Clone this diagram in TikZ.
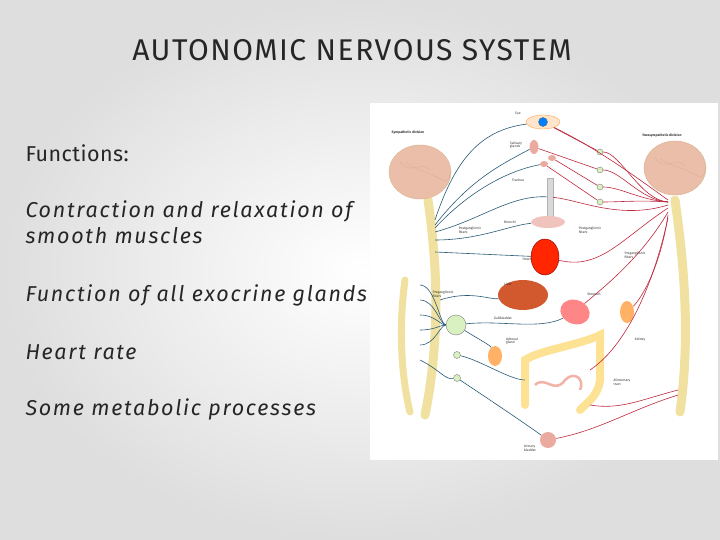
\documentclass[tikz,border=0pt]{standalone}
\usepackage{fontspec}
\setmainfont{Fira Sans}
\newfontfamily\bodyfont[LetterSpace=8]{Fira Sans}
\usetikzlibrary{shapes.geometric}
\definecolor{symp}{RGB}{40,90,120}
\definecolor{para}{RGB}{190,40,60}
\definecolor{cord}{RGB}{240,225,160}
\definecolor{brain}{RGB}{235,190,170}
\definecolor{organ}{RGB}{235,170,160}
\tikzset{
 body/.style={anchor=west,font=\bodyfont\itshape\fontsize{21.5}{26}\selectfont,align=left,text=black!85},
 lab/.style={font=\fontsize{3.4}{3.8}\selectfont,align=left,inner sep=0.5pt,text=black!80},
 sn/.style={symp,line width=0.6pt},
 pn/.style={para,line width=0.6pt},
 gang/.style={circle,draw=black!50,fill=yellow!40!green!25,minimum size=9pt,inner sep=0pt},
}
\begin{document}
\begin{tikzpicture}[x=1pt,y=-1pt]
\shade[inner color=white,outer color=black!13] (0,0) rectangle (720,540);
\useasboundingbox (0,0) rectangle (720,540);
\node[text=black!85] (title) at (352,50) {\fontsize{30}{34}\selectfont\addfontfeature{LetterSpace=5}AUTONOMIC NERVOUS SYSTEM};
\node[body] (t1) at (22,153) {\addfontfeature{LetterSpace=2}\upshape Functions:};
\node[body] (t2) at (22,222) {Contraction and relaxation of\\smooth muscles};
\node[body] (t3) at (22,295) {Function of all exocrine glands};
\node[body] (t4) at (22,352) {Heart rate};
\node[body] (t5) at (22,409) {Some metabolic processes};
% panel
\node[fill=white,minimum width=348pt,minimum height=357pt,inner sep=0pt] (panel) at (544,281.5) {};
% cords
\draw[line width=9pt,cord,line cap=round] (428,200) .. controls (438,270) and (440,340) .. (425,415);
\draw[line width=7pt,cord,line cap=round] (405,280) .. controls (398,330) and (402,380) .. (410,412);
\draw[line width=9pt,cord,line cap=round] (675,200) .. controls (685,270) and (690,340) .. (680,412);
% brains
\node[ellipse,draw=brown!60,fill=brain,minimum width=62pt,minimum height=54pt] (lb) at (420,172) {};
\node[ellipse,draw=brown!60,fill=brain,minimum width=62pt,minimum height=54pt] (rb) at (675,168) {};
\foreach \b in {lb,rb}{\draw[brown!60,thin] (\b.north west) ++(8,10) .. controls +(10,8) and +(-10,-6) .. +(30,14) .. controls +(12,6) .. +(45,8);
\draw[brown!60,thin] (\b.center) ++(-20,-10) .. controls +(10,14) and +(-8,-10) .. +(30,8);}
% organs
\node[ellipse,draw=orange!70,fill=orange!20,minimum width=34pt,minimum height=14pt] (eye) at (543,122) {};
\node[circle,fill=blue!50!cyan,minimum size=9pt,inner sep=0pt,draw=black!60] (iris) at (543,122) {};
\node[ellipse,fill=organ,minimum width=9pt,minimum height=14pt,inner sep=0pt] (sal1) at (534,147) {};
\node[ellipse,fill=organ,minimum width=8pt,minimum height=6pt,inner sep=0pt] (sal2) at (552,158) {};
\node[ellipse,fill=organ,minimum width=8pt,minimum height=6pt,inner sep=0pt] (sal3) at (544,164) {};
\node[rectangle,fill=black!15,draw=black!30,minimum width=6pt,minimum height=38pt,inner sep=0pt] (trach) at (550,197) {};
\node[ellipse,fill=organ!70,minimum width=34pt,minimum height=12pt,inner sep=0pt] (bron) at (548,222) {};
\node[ellipse,fill=red!70!orange,draw=red!50!black,minimum width=28pt,minimum height=36pt,inner sep=0pt] (heart) at (545,257) {};
\node[ellipse,fill=brown!70!red,minimum width=50pt,minimum height=30pt,inner sep=0pt] (liver) at (523,295) {};
\node[ellipse,fill=pink!70!red,minimum width=30pt,minimum height=24pt,inner sep=0pt,rotate=-20] (stom) at (575,312) {};
\node[ellipse,fill=orange!60,minimum width=14pt,minimum height=22pt,inner sep=0pt] (kid) at (627,312) {};
\node[ellipse,fill=orange!60,minimum width=14pt,minimum height=20pt,inner sep=0pt] (adr) at (495,356) {};
\draw[line width=8pt,yellow!50!orange!40,line cap=round] (525,405) -- (525,360) .. controls (540,350) and (580,345) .. (600,335) -- (600,380) .. controls (598,395) and (590,400) .. (580,410);
\draw[line width=2.5pt,pink!80!brown] (535,385) .. controls (545,375) and (555,395) .. (565,380) .. controls (575,370) and (585,380) .. (580,390);
\node[circle,fill=organ,minimum size=16pt,inner sep=0pt] (blad) at (548,440) {};
% ganglia
\foreach \y/\n in {152/g1,170/g2,187/g3,202/g4}{\node[gang,minimum size=6pt] (\n) at (600,\y) {};}
\node[gang,minimum size=20pt] (cel) at (456,325) {};
\node[gang,minimum size=7pt] (sg1) at (457,355) {};
\node[gang,minimum size=7pt] (sg2) at (457,378) {};
% sympathetic nerves
\draw[sn] (435,220) .. controls (455,160) and (480,130) .. (eye);
\draw[sn] (435,225) .. controls (470,180) and (500,165) .. (sal1);
\draw[sn] (435,228) .. controls (470,190) and (510,170) .. (sal3);
\draw[sn] (435,232) .. controls (480,220) and (510,195) .. (trach);
\draw[sn] (435,240) .. controls (480,240) and (510,225) .. (bron);
\draw[sn] (435,252) -- (heart);
\draw[sn] (440,300) .. controls (470,290) and (490,300) .. (liver);
\foreach \y in {285,300,315,330,345}{\draw[sn] (420,\y) .. controls (435,\y) and (440,325) .. (cel);}
\draw[sn] (cel) .. controls (500,320) and (540,330) .. (stom);
\draw[sn] (cel) .. controls (480,340) and (490,345) .. (adr);
\draw[sn] (sg1) .. controls (480,360) and (510,380) .. (525,380);
\draw[sn] (sg2) .. controls (490,400) and (520,420) .. (blad);
\draw[sn] (420,360) .. controls (440,370) and (445,380) .. (sg2);
% parasympathetic nerves
\draw[pn] (668,200) .. controls (640,180) and (600,150) .. (eye);
\foreach \g/\y in {g1/152,g2/170,g3/187,g4/202}{\draw[pn] (668,202) .. controls (640,200) and (620,\y) .. (\g);}
\draw[pn] (g1) -- (eye); \draw[pn] (g2) -- (sal1); \draw[pn] (g3) -- (sal2); \draw[pn] (g4) -- (sal3);
\draw[pn] (668,205) .. controls (620,220) and (580,200) .. (trach);
\draw[pn] (668,208) .. controls (620,240) and (600,270) .. (heart);
\draw[pn] (668,212) .. controls (640,260) and (600,290) .. (stom);
\draw[pn] (668,215) .. controls (660,270) and (640,300) .. (kid);
\draw[pn] (668,218) .. controls (650,300) and (620,350) .. (590,370);
\draw[pn] (678,390) .. controls (640,400) and (620,410) .. (590,405);
\draw[pn] (678,395) .. controls (630,410) and (600,430) .. (blad);
% labels
\node[lab,font=\bfseries\fontsize{3.4}{3.8}\selectfont] (l1) at (408,133) {Sympathetic division};
\node[lab,font=\bfseries\fontsize{3.4}{3.8}\selectfont] (l2) at (662,135) {Parasympathetic division};
\node[lab] (l3) at (518,114) {Eye};
\node[lab] (l4) at (516,145) {Salivary\\glands};
\node[lab] (l5) at (518,180) {Trachea};
\node[lab] (l6) at (510,222) {Bronchi};
\node[lab] (l7) at (470,230) {Postganglionic\\fibers};
\node[lab] (l8) at (590,230) {Postganglionic\\fibers};
\node[lab] (l9) at (527,259) {Heart};
\node[lab] (l10) at (635,255) {Preganglionic\\fibers};
\node[lab] (l11) at (508,284) {Liver};
\node[lab] (l12) at (594,294) {Stomach};
\node[lab] (l13) at (443,294) {Preganglionic\\fibers};
\node[lab] (l14) at (503,318) {Gallbladder};
\node[lab] (l15) at (512,341) {Adrenal\\gland};
\node[lab] (l16) at (640,340) {Kidney};
\node[lab] (l17) at (622,382) {Alimentary\\tract};
\node[lab] (l18) at (530,448) {Urinary\\bladder};
\end{tikzpicture}
\end{document}
